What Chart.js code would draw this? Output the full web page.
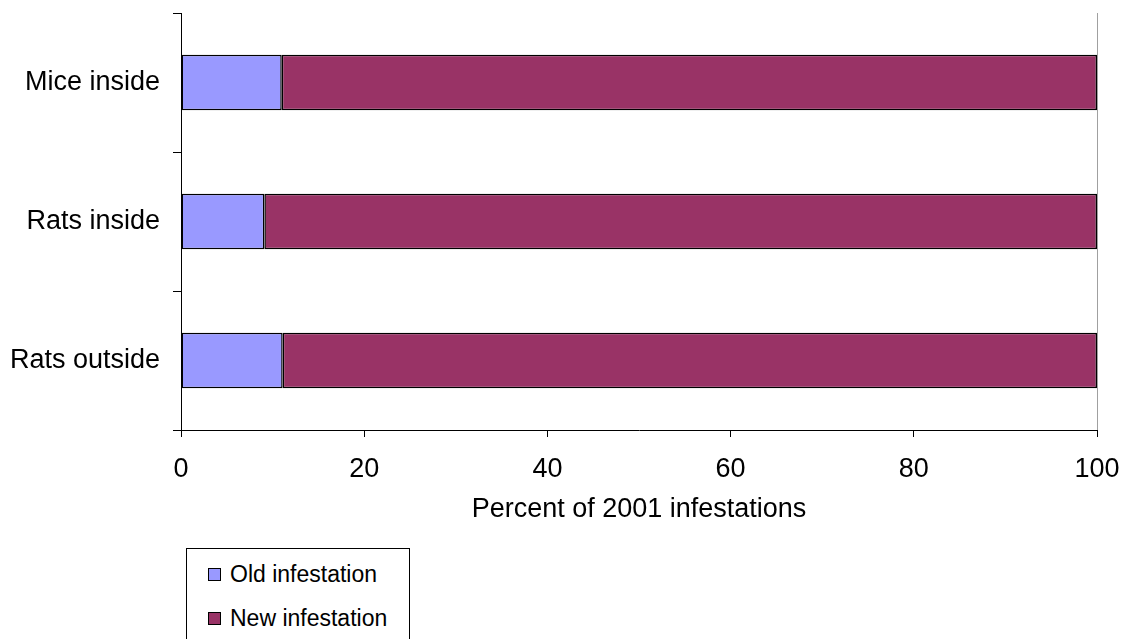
<!DOCTYPE html>
<html>
<head>
<meta charset="utf-8">
<script src="https://cdn.jsdelivr.net/npm/chart.js@4"></script>
<style>
  html, body { margin: 0; padding: 0; background: #fff; }
  #wrap { position: relative; width: 1126px; height: 639px; overflow: hidden; }
  #legend {
    position: absolute; left: 186px; top: 548px; width: 224px; height: 110px;
    border: 1px solid #000; box-sizing: border-box; background: #fff;
    font-family: "Liberation Sans", Arial, sans-serif; font-size: 23px; color: #000;
  }
  .item { position: absolute; left: 21px; height: 26px; line-height: 26px; white-space: nowrap; }
  .swatch { display: inline-block; width: 11px; height: 11px; border: 1px solid #000; margin-right: 9px; vertical-align: 1px; }
</style>
</head>
<body>
<div id="wrap">
  <canvas id="chart" width="1126" height="639"></canvas>
  <div id="legend"></div>
</div>
<script>
const categories = ["Mice inside", "Rats inside", "Rats outside"];
const oldInfestation = [11.0, 9.1, 11.1];
const newInfestation = [89.0, 90.9, 88.9];
const xTicks = [0, 20, 40, 60, 80, 100];
const axisTitle = "Percent of 2001 infestations";

const fontFamily = '"Liberation Sans", Arial, sans-serif';

window.addEventListener("DOMContentLoaded", init);

function init() {
    const ctx = document.getElementById("chart").getContext("2d");

    const chart = new Chart(ctx, {
        type: "bar",
        data: {
            labels: categories,
            datasets: [
                {
                    label: "Old infestation",
                    data: oldInfestation,
                    backgroundColor: "#9999FF",
                    borderColor: "#000000",
                    borderWidth: 1.5,
                    borderSkipped: false,
                },
                {
                    label: "New infestation",
                    data: newInfestation,
                    backgroundColor: "#993366",
                    borderColor: "#000000",
                    borderWidth: 1.5,
                    borderSkipped: false,
                },
            ],
        },
        options: {
            indexAxis: "y",
            responsive: false,
            animation: false,
            devicePixelRatio: 1,
            barPercentage: 0.4,
            categoryPercentage: 1,
            layout: {
                padding: { left: 0, right: 29, top: 13, bottom: 113 },
            },
            plugins: {
                legend: { display: false },
                tooltip: { enabled: false },
            },
            scales: {
                x: {
                    stacked: true,
                    min: 0,
                    max: 100,
                    afterBuildTicks: (scale) => {
                        scale.ticks = xTicks.map((v) => ({ value: v }));
                    },
                    afterFit: (scale) => {
                        scale.height = 96;
                        scale.paddingLeft = 0;
                        scale.paddingRight = 0;
                    },
                    ticks: {
                        color: "#000",
                        padding: 16,
                        font: { family: fontFamily, size: 27 },
                    },
                    grid: {
                        color: (c) => (c.tick && c.tick.value === 100 ? "#a0a0a0" : "rgba(0,0,0,0)"),
                        tickColor: "#000",
                        tickLength: 7,
                        lineWidth: 1,
                    },
                    border: { display: true, color: "#000", width: 1 },
                    title: {
                        display: true,
                        text: axisTitle,
                        color: "#000",
                        padding: { top: 0, bottom: 0 },
                        font: { family: fontFamily, size: 27 },
                    },
                },
                y: {
                    stacked: true,
                    afterFit: (scale) => {
                        scale.width = 181;
                        scale.paddingTop = 0;
                        scale.paddingBottom = 0;
                    },
                    ticks: {
                        color: "#000",
                        padding: 13,
                        font: { family: fontFamily, size: 27 },
                    },
                    grid: {
                        offset: true,
                        color: "rgba(0,0,0,0)",
                        tickColor: "#000",
                        tickLength: 8,
                    },
                    border: { display: true, color: "#000", width: 1 },
                },
            },
        },
    });

    // Légende faite à la main, à partir des datasets
    const legend = document.getElementById("legend");
    const tops = [12, 56];
    chart.data.datasets.forEach((ds, i) => {
        const item = document.createElement("div");
        item.className = "item";
        item.style.top = tops[i] + "px";
        const sw = document.createElement("span");
        sw.className = "swatch";
        sw.style.background = ds.backgroundColor;
        item.appendChild(sw);
        item.appendChild(document.createTextNode(ds.label));
        legend.appendChild(item);
    });
}
</script>
</body>
</html>
